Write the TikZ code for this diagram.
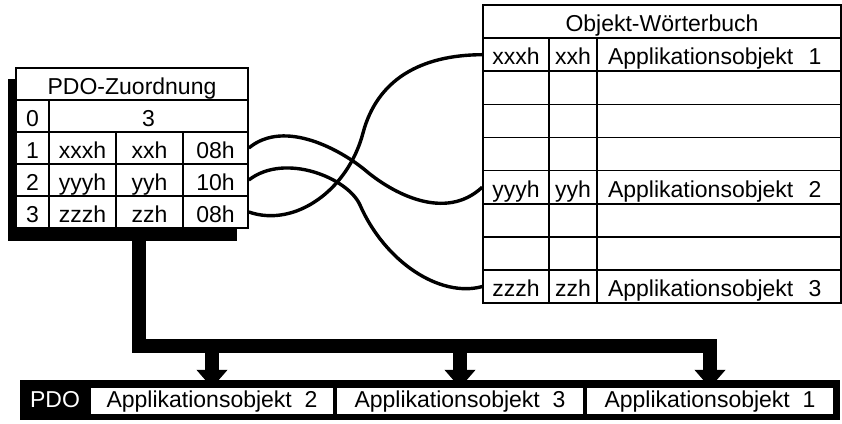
\documentclass[tikz,border=0pt]{standalone}
\usepackage{fontspec}
\setmainfont{Liberation Sans}
\usetikzlibrary{arrows.meta,positioning}

\begin{document}
\begin{tikzpicture}[x=1pt, y=-1pt,
    font=\fontsize{23}{27}\selectfont,
    cell/.style={draw, fill=white, line width=1.6pt, inner sep=0pt, minimum height=32pt,
        text height=20pt, text depth=0pt},
    wbcell/.style={cell, minimum height=33.125pt},
    slot/.style={fill=white, inner sep=0pt, minimum height=26pt, text height=12.5pt, text depth=0pt},
    wire/.style={line width=3.4pt},
    busarrow/.style={line width=14pt, line join=miter, -{Triangle[width=30pt, length=18pt]}}]
  \useasboundingbox (0,0) rectangle (842,423);

  % PDO-Zuordnung with its shadow
  \fill (8,79) rectangle (237,241);
  \node[cell, minimum width=232pt] (pz-h) at (132,84) {PDO-Zuordnung};
  \node[cell, minimum width=33pt] (pz-0-0) at (32.5,116) {0};
  \node[cell, minimum width=199pt] (pz-0-1) at (148.5,116) {3};
  \foreach \r/\a/\b/\c in {1/xxxh/xxh/08h, 2/yyyh/yyh/10h, 3/zzzh/zzh/08h}{
    \node[cell, minimum width=33pt] (pz-\r-0) at (32.5,116+32*\r) {\r};
    \node[cell, minimum width=67pt] (pz-\r-1) at (82.5,116+32*\r) {\a};
    \node[cell, minimum width=67pt] (pz-\r-2) at (149.5,116+32*\r) {\b};
    \node[cell, minimum width=65pt] (pz-\r-3) at (215.5,116+32*\r) {\c};
  }

  % Objekt-Woerterbuch
  \node[wbcell, minimum width=358pt] (wb-h) at (662,21.56) {Objekt-Wörterbuch};
  \foreach \r/\a/\b/\c in {1/xxxh/xxh/Applikationsobjekt~~1, 2///, 3///, 4///,
      5/yyyh/yyh/Applikationsobjekt~~2, 6///, 7///, 8/zzzh/zzh/Applikationsobjekt~~3}{
    \node[wbcell, minimum width=66pt] (wb-\r-1) at (516,21.56+33.125*\r) {\a};
    \node[wbcell, minimum width=48pt] (wb-\r-2) at (573,21.56+33.125*\r) {\b};
    \node[wbcell, minimum width=244pt, text width=222pt, inner xsep=11pt, align=left]
      (wb-\r-3) at (719,21.56+33.125*\r) {\c};
  }

  \draw[wire] (pz-1-3.east) .. controls (285,118) and (342,151) .. (365,170)
    .. controls (392,193) and (445,222) .. (wb-5-1.west);
  \draw[wire] (pz-2-3.east) .. controls (285,152) and (348,178) .. (360,205)
    .. controls (385,262) and (440,298) .. (wb-8-1.west);
  \draw[wire] (pz-3-3.east) .. controls (295,228) and (348,190) .. (363,133)
    .. controls (377,80) and (420,55) .. (wb-1-1.west);

  % PDO frame
  \node[fill=black, minimum width=820pt, minimum height=40pt, inner sep=0pt] (pdo) at (430,400) {};
  \node[text=white, text height=12.5pt, text depth=0pt, inner sep=0pt] (pdo-l) at (55,401) {PDO};
  \foreach \i/\x/\w/\n in {1/212/242/2, 2/460/246/3, 3/710/246/1}
    \node[slot, minimum width=\w pt] (po-\i) at (\x,401) {Applikationsobjekt~~\n};

  \coordinate (bus) at (139,345.5);
  \draw[busarrow] (bus |- pz-3-1.south) -- (bus) -- (bus -| po-3.north) -- (po-3.north);
  \draw[busarrow] (bus -| po-1.north) -- (po-1.north);
  \draw[busarrow] (bus -| po-2.north) -- (po-2.north);
\end{tikzpicture}
\end{document}
